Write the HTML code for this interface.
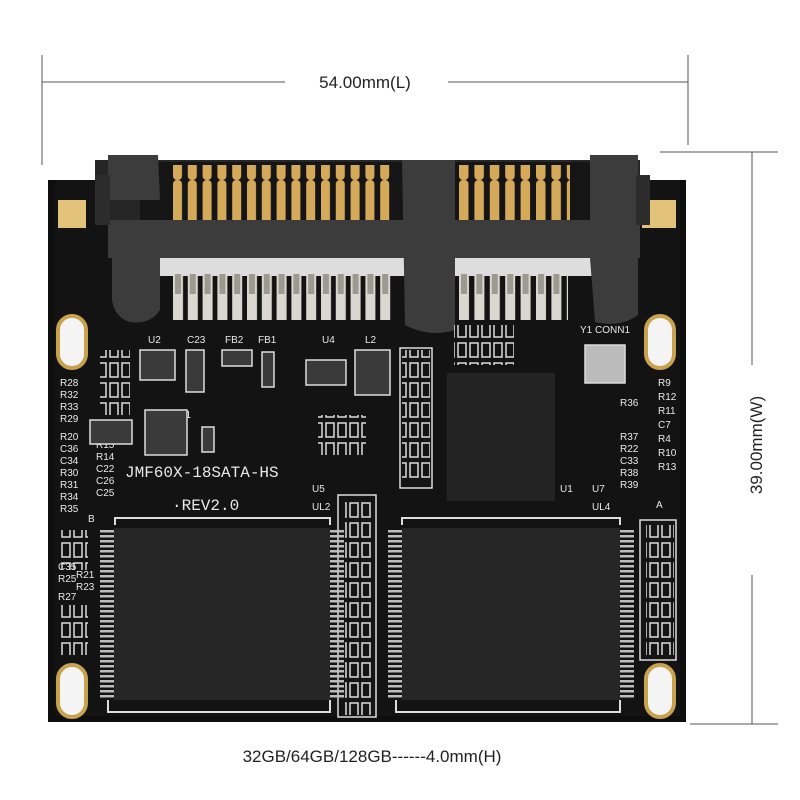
<!DOCTYPE html>
<html><head><style>
html,body{margin:0;padding:0;background:#fff;}
svg{display:block;}
text{font-family:"Liberation Sans",sans-serif;}
.lbl{fill:#e8e8e8;font-size:10px;}
.mono{font-family:"Liberation Mono",monospace;}
</style></head><body>
<svg width="800" height="800" viewBox="0 0 800 800" xmlns="http://www.w3.org/2000/svg">
<defs>
<pattern id="gpin" x="172" y="0" width="14.8" height="60" patternUnits="userSpaceOnUse">
<rect x="1" y="0" width="9" height="60" rx="4" fill="#d4a95a"/></pattern>
<pattern id="gpin2" x="458" y="0" width="15.4" height="60" patternUnits="userSpaceOnUse">
<rect x="1" y="0" width="9.5" height="60" rx="4" fill="#d4a95a"/></pattern>
<pattern id="spad" x="172" y="0" width="14.8" height="50" patternUnits="userSpaceOnUse">
<rect x="1" y="0" width="10" height="50" fill="#d8d8d0"/><rect x="3" y="22" width="6" height="22" fill="#9a9a90"/></pattern>
<pattern id="spad2" x="458" y="0" width="15.4" height="50" patternUnits="userSpaceOnUse">
<rect x="1" y="0" width="10" height="50" fill="#d8d8d0"/><rect x="3" y="22" width="6" height="22" fill="#9a9a90"/></pattern>
<pattern id="leadv" x="0" y="530" width="14" height="5" patternUnits="userSpaceOnUse">
<rect x="0" y="0" width="14" height="2.5" fill="#bdbdbd"/></pattern>
<pattern id="smd" x="0" y="0" width="12" height="20" patternUnits="userSpaceOnUse">
<rect x="2" y="3" width="8" height="14" fill="none" stroke="#ddd" stroke-width="1.5"/></pattern>
</defs>

<g stroke="#555" stroke-width="1">
<line x1="42" y1="55" x2="42" y2="165"/>
<line x1="688" y1="55" x2="688" y2="145"/>
<line x1="42" y1="82" x2="285" y2="82"/>
<line x1="448" y1="82" x2="688" y2="82"/>
<line x1="660" y1="152" x2="778" y2="152"/>
<line x1="690" y1="724" x2="778" y2="724"/>
<line x1="752" y1="152" x2="752" y2="365"/>
<line x1="752" y1="575" x2="752" y2="724"/>
</g>
<text x="365" y="88" text-anchor="middle" font-size="17" fill="#222">54.00mm(L)</text>
<text transform="translate(762,445) rotate(-90)" text-anchor="middle" font-size="17" fill="#222">39.00mm(W)</text>
<text x="372" y="762" text-anchor="middle" font-size="17" fill="#222">32GB/64GB/128GB------4.0mm(H)</text>

<rect x="48" y="180" width="638" height="542" fill="#0e0e0e"/>
<rect x="55" y="180" width="625" height="536" fill="#131313"/>
<rect x="58" y="200" width="28" height="28" fill="#e3c27a"/>
<rect x="642" y="200" width="34" height="28" fill="#e3c27a"/>
<g fill="#f4f4f4" stroke="#c9a24e" stroke-width="4">
<rect x="58" y="316" width="28" height="52" rx="14"/>
<rect x="646" y="316" width="28" height="52" rx="14"/>
<rect x="58" y="665" width="28" height="52" rx="14"/>
<rect x="646" y="665" width="28" height="52" rx="14"/>
</g>

<rect x="95" y="160" width="545" height="60" fill="#262626"/>
<rect x="140" y="162" width="455" height="58" fill="#151515"/>
<rect x="172" y="165" width="222" height="57" fill="url(#gpin)"/>
<rect x="458" y="165" width="112" height="57" fill="url(#gpin2)"/>
<rect x="160" y="258" width="432" height="18" fill="#ddd"/>
<rect x="172" y="274" width="222" height="46" fill="url(#spad)"/>
<rect x="458" y="274" width="110" height="46" fill="url(#spad2)"/>
<g fill="#3c3c3c">
<path d="M108 155 H158 L160 200 H108 Z"/>
<rect x="108" y="220" width="532" height="38"/>
<path d="M112 258 H160 V310 Q150 325 130 322 Q115 318 112 300 Z"/>
<path d="M402 160 H455 V330 Q430 338 405 325 Z"/>
<path d="M590 155 H638 V258 H638 V315 Q620 328 595 322 L590 258 Z"/>
</g>
<rect x="95" y="175" width="15" height="50" fill="#2c2c2c"/>
<rect x="636" y="175" width="14" height="50" fill="#2c2c2c"/>

<g class="lbl">
<text x="148" y="343">U2</text><text x="187" y="343">C23</text><text x="225" y="343">FB2</text>
<text x="258" y="343">FB1</text><text x="322" y="343">U4</text><text x="365" y="343">L2</text>
<text x="580" y="333">Y1 CONN1</text>
<text x="180" y="418">L1</text>
<text x="60" y="386">R28</text><text x="60" y="398">R32</text><text x="60" y="410">R33</text>
<text x="60" y="422">R29</text><text x="60" y="440">R20</text><text x="60" y="452">C36</text>
<text x="60" y="464">C34</text><text x="60" y="476">R30</text><text x="60" y="488">R31</text>
<text x="60" y="500">R34</text><text x="60" y="512">R35</text>
<text x="96" y="448">R15</text><text x="96" y="460">R14</text><text x="96" y="472">C22</text>
<text x="96" y="484">C26</text><text x="96" y="496">C25</text>
<text x="58" y="570">C35</text><text x="58" y="582">R25</text><text x="58" y="600">R27</text>
<text x="76" y="578">R21</text><text x="76" y="590">R23</text>
<text x="620" y="406">R36</text><text x="620" y="440">R37</text><text x="620" y="452">R22</text>
<text x="620" y="464">C33</text><text x="620" y="476">R38</text><text x="620" y="488">R39</text>
<text x="658" y="386">R9</text><text x="658" y="400">R12</text><text x="658" y="414">R11</text>
<text x="658" y="428">C7</text><text x="658" y="442">R4</text><text x="658" y="456">R10</text>
<text x="658" y="470">R13</text>
<text x="312" y="492">U5</text><text x="312" y="510">UL2</text>
<text x="560" y="492">U1</text><text x="592" y="492">U7</text><text x="592" y="510">UL4</text>
<text x="656" y="508">A</text><text x="408" y="485">A</text><text x="342" y="508">B</text><text x="88" y="522">B</text>
</g>
<text x="125" y="477" style="font-family:'Liberation Mono',monospace" font-size="16" fill="#e8e8e8">JMF60X-18SATA-HS</text>
<text x="172" y="510" style="font-family:'Liberation Mono',monospace" font-size="16" fill="#e8e8e8">·REV2.0</text>

<g fill="#3a3a3a" stroke="#ddd" stroke-width="1.5">
<rect x="140" y="350" width="35" height="30"/>
<rect x="186" y="350" width="18" height="42"/>
<rect x="222" y="350" width="30" height="16"/>
<rect x="262" y="352" width="12" height="35"/>
<rect x="306" y="360" width="40" height="25"/>
<rect x="355" y="350" width="35" height="45"/>
<rect x="145" y="410" width="42" height="45"/>
<rect x="90" y="420" width="42" height="24"/>
<rect x="202" y="427" width="12" height="25"/>
<rect x="400" y="348" width="32" height="140" fill="#151515"/>
<rect x="585" y="345" width="40" height="38" fill="#bbb"/>
<rect x="338" y="495" width="38" height="222" fill="#151515"/>
<rect x="640" y="520" width="36" height="140" fill="#151515"/>
</g>
<rect x="100" y="350" width="30" height="65" fill="url(#smd)"/>
<rect x="318" y="415" width="48" height="40" fill="url(#smd)"/>
<rect x="454" y="325" width="60" height="40" fill="url(#smd)"/>
<rect x="402" y="350" width="28" height="130" fill="url(#smd)"/>
<rect x="345" y="500" width="26" height="215" fill="url(#smd)"/>
<rect x="60" y="530" width="28" height="40" fill="url(#smd)"/>
<rect x="60" y="605" width="28" height="50" fill="url(#smd)"/>
<rect x="646" y="525" width="28" height="130" fill="url(#smd)"/>

<rect x="447" y="373" width="108" height="128" fill="#232323"/>

<rect x="100" y="530" width="14" height="168" fill="url(#leadv)"/>
<rect x="330" y="530" width="14" height="168" fill="url(#leadv)"/>
<rect x="388" y="530" width="14" height="168" fill="url(#leadv)"/>
<rect x="620" y="530" width="14" height="168" fill="url(#leadv)"/>
<rect x="114" y="528" width="216" height="172" fill="#262626"/>
<rect x="402" y="528" width="218" height="172" fill="#262626"/>
<g stroke="#ddd" stroke-width="2" fill="none">
<path d="M115 525 V518 H330 V525"/>
<path d="M402 525 V518 H620 V525"/>
<path d="M108 700 V712 H330 V700"/>
<path d="M396 700 V712 H620 V700"/>
</g>
</svg>
</body></html>
